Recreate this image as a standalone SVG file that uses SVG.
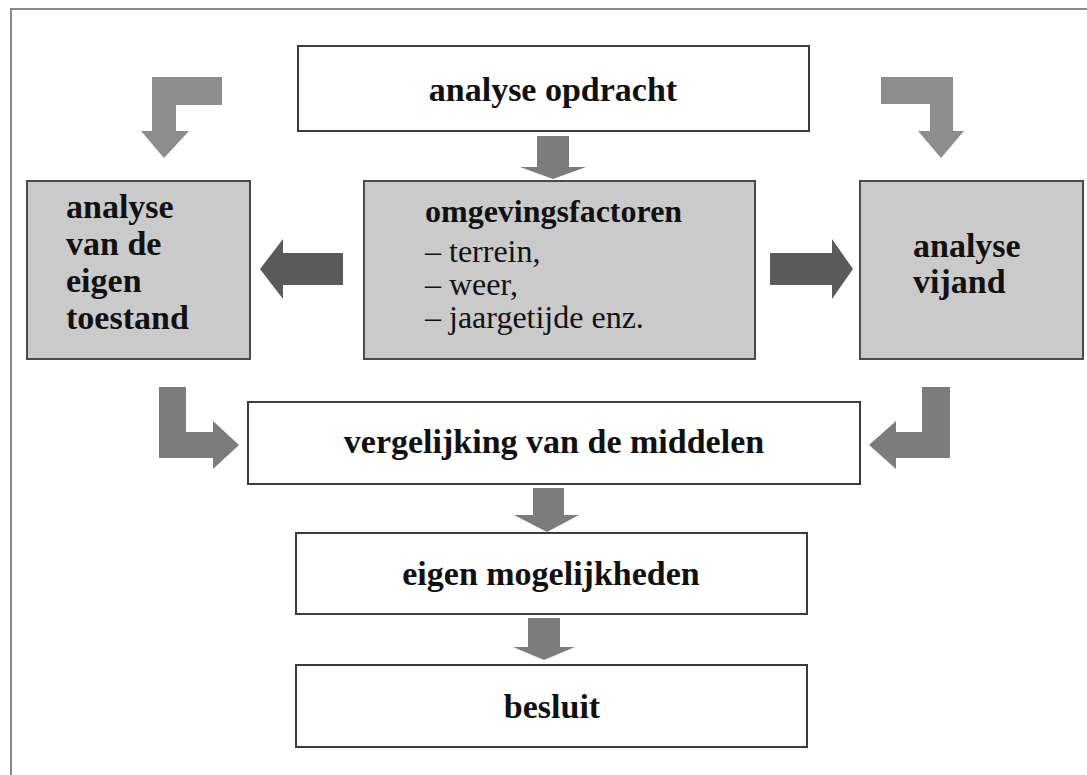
<svg xmlns="http://www.w3.org/2000/svg" width="1087" height="775" viewBox="0 0 1087 775">
  <style>
    .box { fill: #ffffff; stroke: #3c3c3c; stroke-width: 2; }
    .gbox { fill: #cacaca; stroke: #4a4a4a; stroke-width: 2; }
    .b { font-family: "Liberation Serif", "Times New Roman", serif; font-weight: bold; font-size: 34px; fill: #111; }
    .r { font-family: "Liberation Serif", "Times New Roman", serif; font-size: 32px; fill: #111; }
    .mid { text-anchor: middle; }
    .light { fill: #8d8d8d; }
    .medium { fill: #7c7c7c; }
    .dark { fill: #5a5a5a; }
  </style>

  <rect width="1087" height="775" fill="#ffffff"/>
  <!-- page frame -->
  <path d="M11,775 L11,9 L1087,9" fill="none" stroke="#8a8a8a" stroke-width="2"/>

  <g id="connectors">
    <!-- bent arrows from the assignment to both analyses -->
    <path class="light" d="M222,77 L152,77 L152,131 L141,131 L164,158 L189,131 L176,131 L176,105 L222,105 Z"/>
    <path class="light" d="M881,77 L953,77 L953,131 L964,131 L941,158 L918,131 L930,131 L930,104 L881,104 Z"/>
    <!-- assignment to environment -->
    <path class="medium" d="M537,136 L569,136 L569,167 L586,167 L553,179 L520,167 L537,167 Z"/>
    <!-- environment to own state / enemy -->
    <path class="dark" d="M343,253 L283,253 L283,239 L260,269 L283,299 L283,285 L343,285 Z"/>
    <path class="dark" d="M770,253 L832,253 L832,239 L853,269 L832,299 L832,285 L770,285 Z"/>
    <!-- both analyses into the comparison -->
    <path class="medium" d="M159,387 L186,387 L186,432 L213,432 L213,421 L239,445 L213,469 L213,458 L159,458 Z"/>
    <path class="medium" d="M950,387 L922,387 L922,432 L896,432 L896,421 L869,445 L896,469 L896,458 L950,458 Z"/>
    <!-- comparison to possibilities to decision -->
    <path class="medium" d="M533,488 L564,488 L564,515 L579,515 L547,532 L514,515 L533,515 Z"/>
    <path class="medium" d="M528,618 L560,618 L560,647 L575,647 L544,660 L513,647 L528,647 Z"/>
  </g>

  <g id="opdracht">
    <rect class="box" x="298" y="46" width="511" height="85"/>
    <text class="b mid" x="553" y="101">analyse opdracht</text>
  </g>

  <g id="eigen-toestand">
    <rect class="gbox" x="27" y="181" width="223" height="178"/>
    <text class="b" x="66" y="218">analyse</text>
    <text class="b" x="66" y="255">van de</text>
    <text class="b" x="66" y="292">eigen</text>
    <text class="b" x="66" y="329">toestand</text>
  </g>

  <g id="omgevingsfactoren">
    <rect class="gbox" x="364" y="181" width="391" height="178"/>
    <text class="b" x="425" y="222" style="font-size:32px">omgevingsfactoren</text>
    <text class="r" x="425" y="262">– terrein,</text>
    <text class="r" x="425" y="295">– weer,</text>
    <text class="r" x="425" y="328">– jaargetijde enz.</text>
  </g>

  <g id="vijand">
    <rect class="gbox" x="860" y="181" width="223" height="178"/>
    <text class="b" x="913" y="257">analyse</text>
    <text class="b" x="913" y="293">vijand</text>
  </g>

  <g id="vergelijking">
    <rect class="box" x="248" y="402" width="612" height="82"/>
    <text class="b mid" x="554" y="453">vergelijking van de middelen</text>
  </g>

  <g id="mogelijkheden">
    <rect class="box" x="296" y="533" width="511" height="81"/>
    <text class="b mid" x="551" y="585">eigen mogelijkheden</text>
  </g>

  <g id="besluit">
    <rect class="box" x="296" y="665" width="511" height="82"/>
    <text class="b mid" x="552" y="718">besluit</text>
  </g>
</svg>
